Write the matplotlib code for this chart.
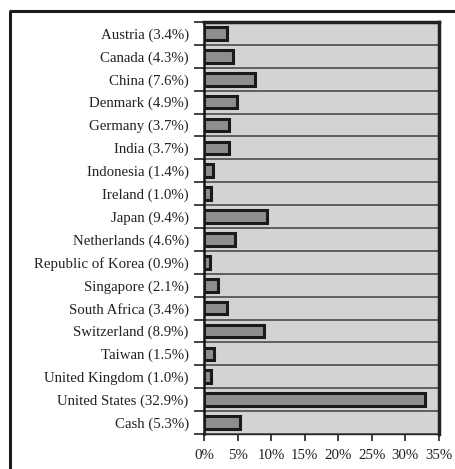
import matplotlib
matplotlib.use("Agg")
import matplotlib.pyplot as plt
from matplotlib.lines import Line2D
import numpy as np

countries = ["Austria", "Canada", "China", "Denmark", "Germany", "India", "Indonesia",
             "Ireland", "Japan", "Netherlands", "Republic of Korea", "Singapore",
             "South Africa", "Switzerland", "Taiwan", "United Kingdom", "United States", "Cash"]
values = [3.4, 4.3, 7.6, 4.9, 3.7, 3.7, 1.4, 1.0, 9.4, 4.6, 0.9, 2.1, 3.4, 8.9, 1.5, 1.0, 32.9, 5.3]
xticks = [0, 5, 10, 15, 20, 25, 30, 35]

plt.rcParams['font.family'] = ['Liberation Serif', 'DejaVu Serif']

W, H = 456, 469
fig = plt.figure(figsize=(W / 100, H / 100), dpi=100)
ax = fig.add_axes([204 / W, 1 - 434 / H, (439 - 204) / W, (434 - 22) / H])

n = len(countries)
y = np.arange(n)
labels = [f"{c} ({v}%)" for c, v in zip(countries, values)]

ax.set_facecolor('#d3d3d3')
# shadow
ax.barh(y + 0.06, values, height=0.55, left=0.15, color='#b0b0b0', zorder=2)
ax.barh(y, values, height=0.55, color='#8e8e8e', edgecolor='#1a1a1a', linewidth=2.2, zorder=3)

ax.set_ylim(n - 0.5, -0.5)
ax.set_xlim(0, 35)
ax.set_yticks(y)
ax.set_yticklabels(labels, fontsize=10.7, color='#222222')
ax.set_yticks(np.arange(n + 1) - 0.5, minor=True)
ax.tick_params(axis='y', which='major', length=0, pad=11)
ax.tick_params(axis='y', which='minor', length=7, width=1.2, color='#222222')
ax.set_xticks(xticks)
ax.set_xticklabels([f"{t}%" for t in xticks], fontsize=10.7, color='#222222')
ax.tick_params(axis='x', length=5, width=1.2, color='#222222', pad=6)
ax.grid(True, axis='y', which='minor', color='#555555', linewidth=1.3, zorder=1)
ax.set_axisbelow(True)

for side in ['top', 'right']:
    ax.spines[side].set_linewidth(2.5)
    ax.spines[side].set_color('#222222')
ax.spines['left'].set_linewidth(1.8)
ax.spines['left'].set_color('#111111')
ax.spines['bottom'].set_linewidth(1.0)
ax.spines['bottom'].set_color('#222222')

# outer frame
fig.add_artist(Line2D([10 / W, 10 / W], [0, 1 - 11 / H], transform=fig.transFigure,
                      color='#1a1a1a', linewidth=2.2, solid_capstyle='butt'))
fig.add_artist(Line2D([9 / W, 1], [1 - 11.5 / H, 1 - 11.5 / H], transform=fig.transFigure,
                      color='#1a1a1a', linewidth=2.2, solid_capstyle='butt'))

fig.savefig("out.png", dpi=100)
